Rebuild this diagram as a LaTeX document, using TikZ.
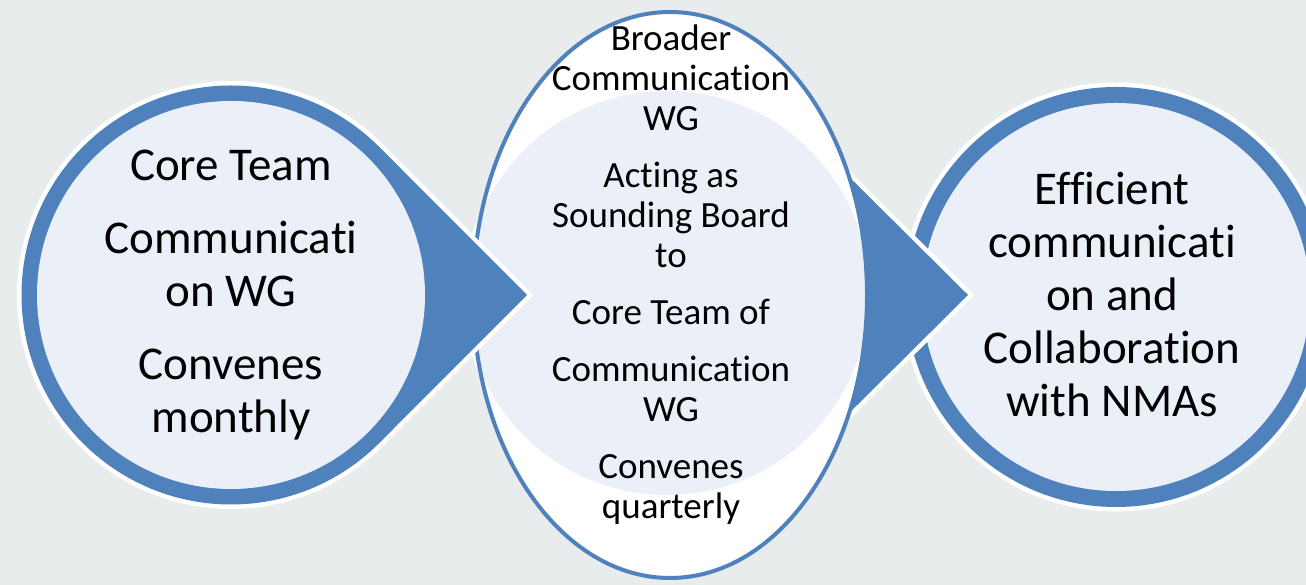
\documentclass[tikz,border=0pt]{standalone}
\usepackage{fontspec}
\setmainfont{Carlito}[Ligatures=NoCommon]
\usetikzlibrary{calc}
\definecolor{ringblue}{RGB}{79,129,189}
\definecolor{paleblue}{RGB}{235,240,248}
\definecolor{slate}{RGB}{233,236,237}
\tikzset{
    bubble/.style   = {fill=ringblue, preaction={draw=white, line width=9pt, line join=miter}},
    inner/.style    = {fill=paleblue},
    bigtext/.style  = {align=center, font=\fontsize{47}{53}\selectfont},
    smalltext/.style= {align=center, font=\fontsize{37}{40}\selectfont}
}

\begin{document}
\begin{tikzpicture}[x=1pt, y=1pt]
  \useasboundingbox (0,0) rectangle (1306,585);
  \clip (0,0) rectangle (1306,585);
  \fill[slate] (0,0) rectangle (1306,585);

  \coordinate (left)  at (231,290);
  \coordinate (mid)   at (670,290);
  \coordinate (right) at (1116,288);
  \coordinate (lefttip) at (527,290);
  \coordinate (midtip)  at (968,290);

  % right circle
  \path[bubble] (right) circle (210);
  \fill[inner] (right) circle (194);

  % middle pointer and ellipse
  \path[bubble] (midtip) -- ($(mid)+(45:210)$) -- ($(mid)+(-45:210)$) -- cycle;
  \fill[white] ($(mid)+(-5,0)$) circle (202);
  \fill[white] (mid) ellipse [x radius=197, y radius=283];
  \begin{scope}
    \clip (mid) ellipse [x radius=197, y radius=283];
    \fill[inner] ($(mid)+(-3,2)$) circle (202);
  \end{scope}
  \draw[ringblue, line width=4pt] (mid) ellipse [x radius=197, y radius=283];

  % left circle with pointer
  \path[bubble] (lefttip) -- ($(left)+(45:209.5)$)
    arc[start angle=45, end angle=315, radius=209.5] -- cycle;
  \fill[inner] (left) circle (194);

  % texts
  \node[bigtext] (coretxt) at (231,290)
    {Core Team\\[20pt]Communicati\\on WG\\[20pt]Convenes\\monthly};
  \node[smalltext] (broadtxt) at (671,310)
    {Broader\\Communication\\WG\\[17pt]Acting as\\Sounding Board\\to\\[17pt]Core Team of\\[17pt]Communication\\WG\\[17pt]Convenes\\quarterly};
  \node[bigtext] (goaltxt) at (1112,290)
    {Efficient\\communicati\\on and\\Collaboration\\with NMAs};
\end{tikzpicture}
\end{document}
